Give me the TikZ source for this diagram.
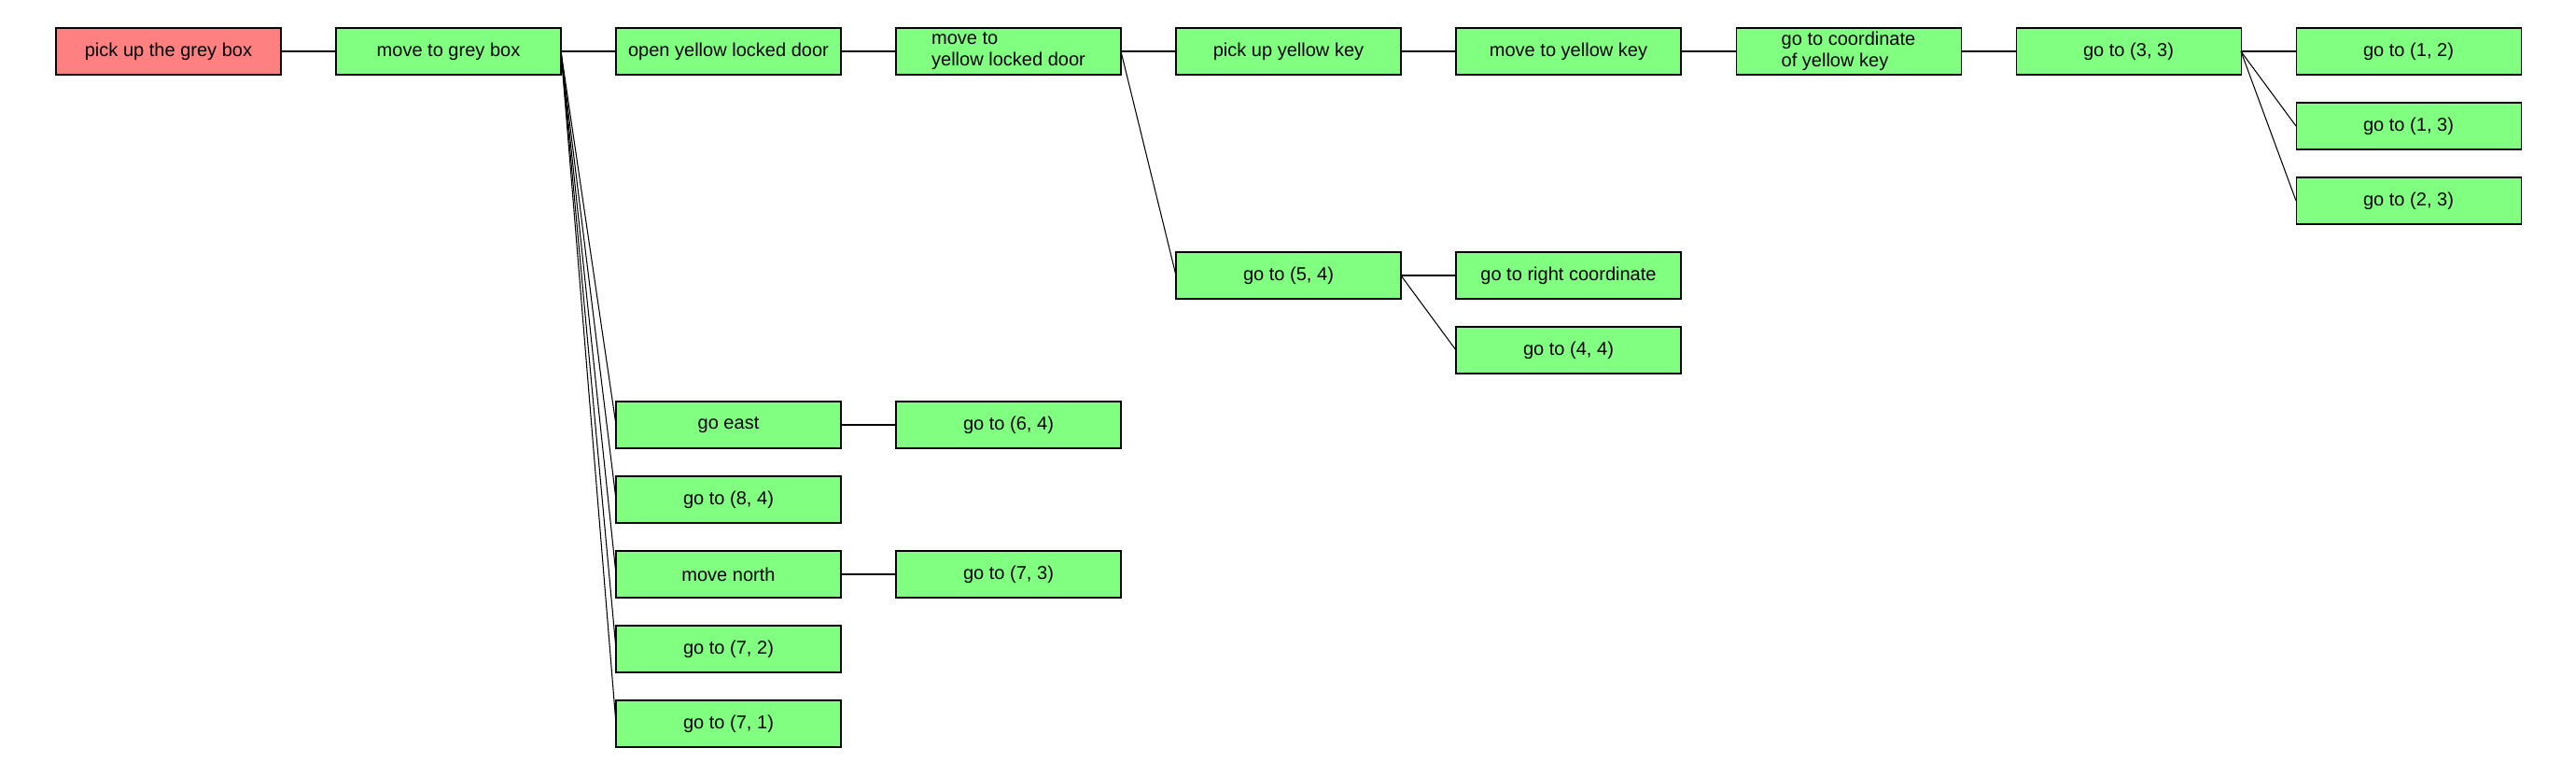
\documentclass[tikz,border=0pt]{standalone}
\usepackage{fontspec}
\setmainfont{Liberation Sans}
\usetikzlibrary{positioning}

\begin{document}
\begin{tikzpicture}[
  task/.style={draw,line width=0.3pt,fill=green!50!white,minimum width=2.41cm,minimum height=0.5cm,
    inner sep=0pt,outer sep=0pt,align=left,font=\fontsize{5.7}{6.5}\selectfont},
  goal/.style={task,fill=red!50!white},
  link/.style={line width=0.3pt}]
  \useasboundingbox (0,0) rectangle (27.6,-8.3);
  % main line
  \node[goal] (a) at (1.805,-0.55) {pick up the grey box};
  \node[task] (b) at (4.805,-0.55) {move to grey box};
  \node[task] (c) at (7.805,-0.55) {open yellow locked door};
  \node[task] (d) at (10.805,-0.55) {move to\\yellow locked door};
  \node[task] (e) at (13.805,-0.55) {pick up yellow key};
  \node[task] (f) at (16.805,-0.55) {move to yellow key};
  \node[task] (g) at (19.805,-0.55) {go to coordinate\\of yellow key};
  \node[task] (h) at (22.805,-0.55) {go to (3, 3)};
  \node[task] (i) at (25.805,-0.55) {go to (1, 2)};
  \node[task] (j) at (25.805,-1.35) {go to (1, 3)};
  \node[task] (k) at (25.805,-2.15) {go to (2, 3)};
  % under the door
  \node[task] (l) at (13.805,-2.95) {go to (5, 4)};
  \node[task] (m) at (16.805,-2.95) {go to right coordinate};
  \node[task] (n) at (16.805,-3.75) {go to (4, 4)};
  % under the grey box
  \node[task] (o) at (7.805,-4.55) {go east};
  \node[task] (p) at (10.805,-4.55) {go to (6, 4)};
  \node[task] (q) at (7.805,-5.35) {go to (8, 4)};
  \node[task] (r) at (7.805,-6.15) {move north};
  \node[task] (s) at (10.805,-6.15) {go to (7, 3)};
  \node[task] (t) at (7.805,-6.95) {go to (7, 2)};
  \node[task] (u) at (7.805,-7.75) {go to (7, 1)};

  \draw[link] (a.east) -- (b.west);
  \draw[link] (b.east) -- (c.west);
  \draw[link] (c.east) -- (d.west);
  \draw[link] (d.east) -- (e.west);
  \draw[link] (e.east) -- (f.west);
  \draw[link] (f.east) -- (g.west);
  \draw[link] (g.east) -- (h.west);
  \draw[link] (h.east) -- (i.west);
  \draw[link] (h.east) -- (j.west);
  \draw[link] (h.east) -- (k.west);
  \draw[link] (d.east) -- (l.west);
  \draw[link] (l.east) -- (m.west);
  \draw[link] (l.east) -- (n.west);
  \draw[link] (b.east) -- (o.west);
  \draw[link] (o.east) -- (p.west);
  \draw[link] (b.east) -- (q.west);
  \draw[link] (b.east) -- (r.west);
  \draw[link] (r.east) -- (s.west);
  \draw[link] (b.east) -- (t.west);
  \draw[link] (b.east) -- (u.west);
\end{tikzpicture}
\end{document}
